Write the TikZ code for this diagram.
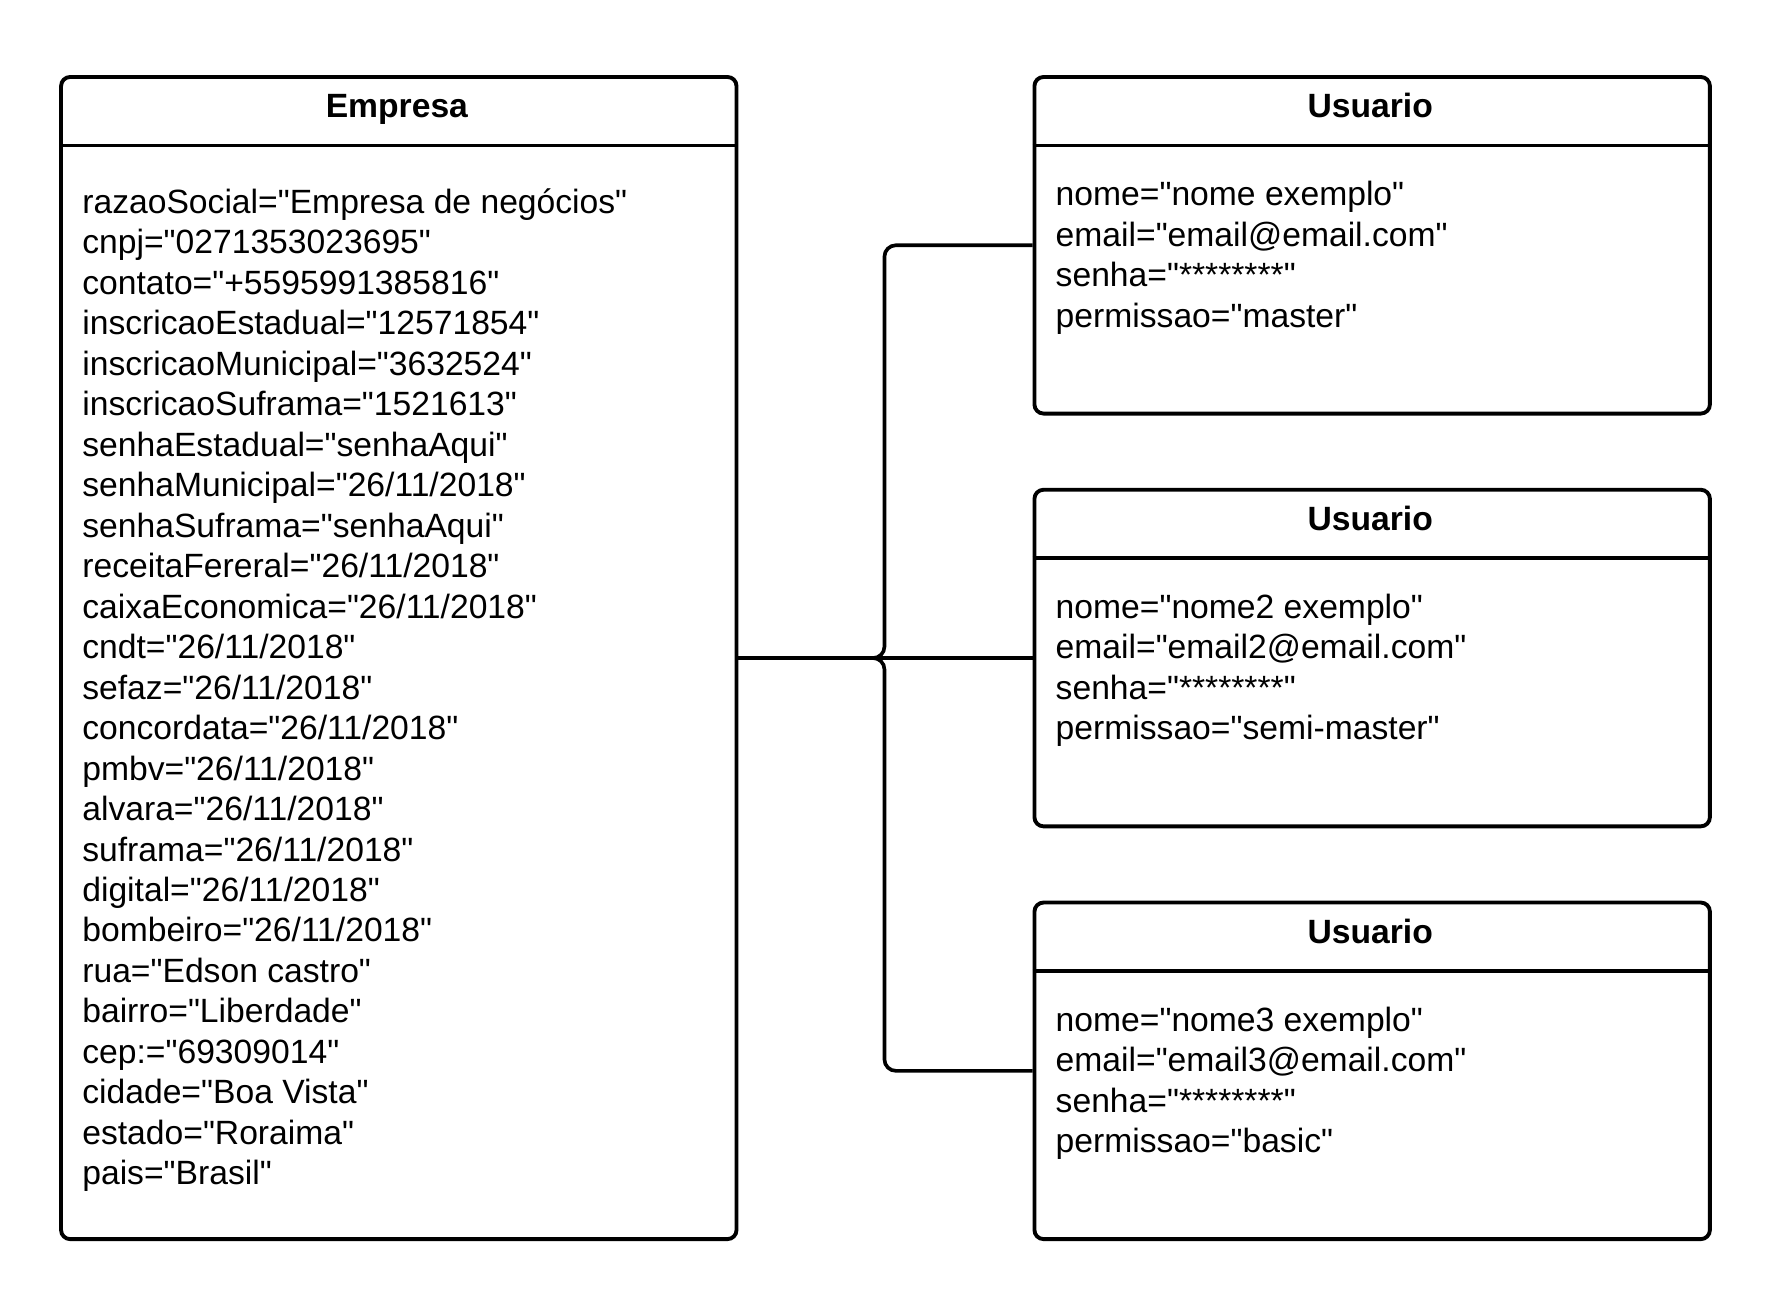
\documentclass[tikz,border=0pt]{standalone}
\usepackage{fontspec}
\setmainfont{Liberation Sans}[Ligatures=TeXOff]
\usepackage{tikz}
\tikzstyle{classbox} = [draw, line width=1.7pt, rounded corners=4pt, minimum width=297pt, inner sep=0pt, anchor=north west]
\tikzstyle{classname} = [font=\fontsize{14.8}{17.8}\selectfont\bfseries, anchor=base, inner sep=0pt]
\tikzstyle{attr} = [font=\fontsize{14.8}{17.8}\selectfont, anchor=base west, inner sep=0pt]
\tikzstyle{link} = [draw, line width=1.6pt, rounded corners=5pt]

\begin{document}
\begin{tikzpicture}[x=0.5pt,y=-0.5pt]
\useasboundingbox (0,0) rectangle (1568,1155);

% Empresa
\node[classbox, minimum height=511pt] at (52,66) (E) {};
\draw[line width=1.7pt] ([yshift=-31pt]E.north west) -- ([yshift=-31pt]E.north east);
\node[classname] at (349,103.4) (Etitle) {Empresa};

\foreach \i [count=\n from 0] in
{razaoSocial="Empresa de negócios",cnpj="0271353023695",contato="+5595991385816",
inscricaoEstadual="12571854",inscricaoMunicipal="3632524",inscricaoSuframa="1521613",
senhaEstadual="senhaAqui",senhaMunicipal="26/11/2018",senhaSuframa="senhaAqui",
receitaFereral="26/11/2018",caixaEconomica="26/11/2018",cndt="26/11/2018",
sefaz="26/11/2018",concordata="26/11/2018",pmbv="26/11/2018",alvara="26/11/2018",
suframa="26/11/2018",digital="26/11/2018",bombeiro="26/11/2018",rua="Edson castro",
bairro="Liberdade",cep:="69309014",cidade="Boa Vista",estado="Roraima",pais="Brasil"}
\node[attr] at (72,187.6+35.6*\n) (EA\n) {\i};

% Usuarios
\foreach \nm/\em/\pm [count=\m] in
{nome/email/master,nome2/email2/semi-master,nome3/email3/basic}
{
\node[classbox, minimum height=148pt] at (908,66+363*\m-363) (U\m) {};
\draw[line width=1.7pt] ([yshift=-31pt]U\m.north west) -- ([yshift=-31pt]U\m.north east);
\node[classname] at (1205,103.4+363*\m-363) (Ut\m) {Usuario};
\node[attr] at (928,180.8+363*\m-363) (UA\m a) {nome="\nm{} exemplo"};
\node[attr] at (928,216.4+363*\m-363) (UA\m b) {email="\em @email.com"};
\node[attr] at (928,252+363*\m-363) (UA\m c) {senha="********"};
\node[attr] at (928,287.6+363*\m-363) (UA\m d) {permissao="\pm"};
}

\path (E.east) ++(64.2pt,0) coordinate (J);
\draw[link] (E.east) -- (J) |- (U1.west);
\draw[link] (E.east) -- (J) |- (U3.west);
\draw[link] (E.east) -- (U2.west);

\end{tikzpicture}
\end{document}
